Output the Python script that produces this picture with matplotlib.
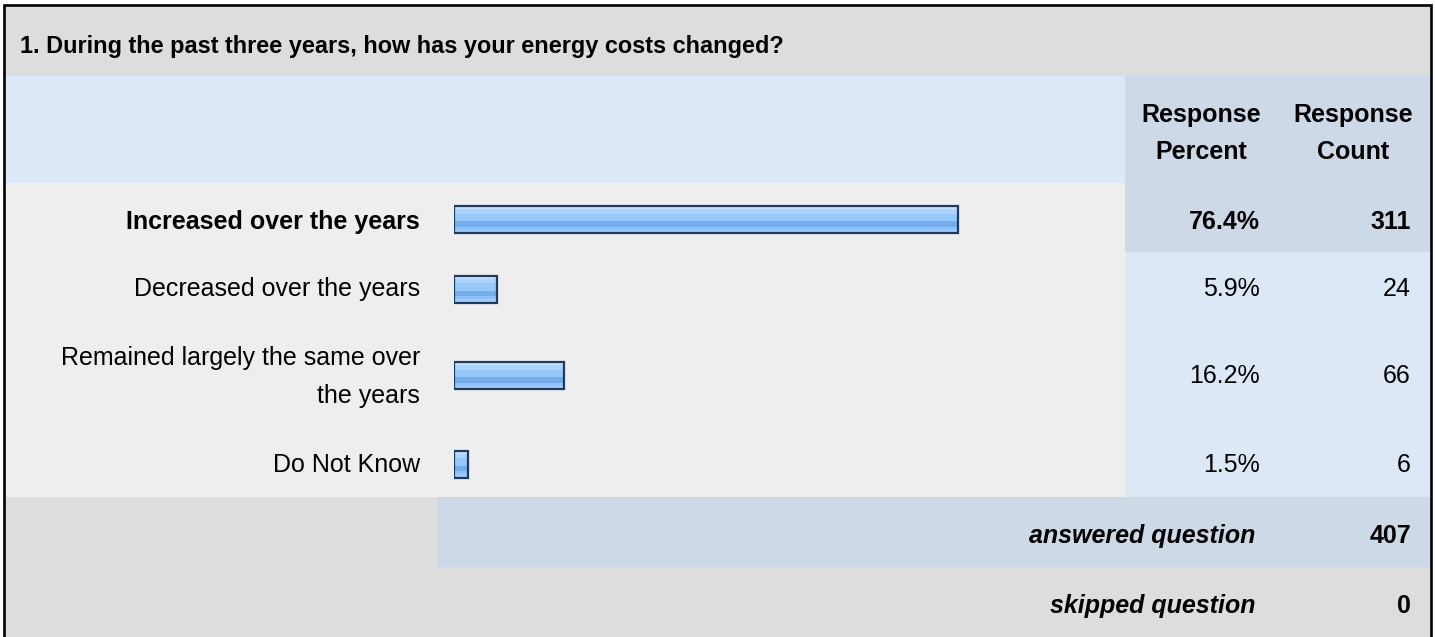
import matplotlib
matplotlib.use("Agg")
import matplotlib.pyplot as plt
from matplotlib.patches import Rectangle

# ---------------- data ----------------
question = "1. During the past three years, how has your energy costs changed?"
categories = ["Increased over the years", "Decreased over the years",
              "Remained largely the same over\nthe years", "Do Not Know"]
percents = [76.4, 5.9, 16.2, 1.5]
counts = [311, 24, 66, 6]
bold_category = "Increased over the years"
col_headers = ["Response\nPercent", "Response\nCount"]
answered = 407
skipped = 0

# ---------------- style / layout ----------------
W, H = 1435, 637
FONT = "Liberation Sans"
FS = 18
TITLE_FS = 16.9
C_HEAD = "#DDDDDD"
C_LBLUE = "#DCE8F6"
C_DBLUE = "#CDD9E6"
C_ROW = "#EEEEEE"
C_EDGE = "#1D3A60"
BANDS = [(0.00, 0.12, "#C6E1FF"), (0.12, 0.28, "#AAD3FF"), (0.28, 0.56, "#96C8F9"),
         (0.56, 0.76, "#74ACEE"), (0.76, 0.88, "#8FC3F7"), (0.88, 1.00, "#A0CDF9")]

row_tops = [183, 252, 322, 428]
row_bots = [252, 322, 428, 497]
row_base = [229, 296, 365, 472]
bar_centers = [219.5, 289, 375.5, 464]
BAR_H = 27
PX_PER_PCT = 6.545
PAD = 0.6

fig = plt.figure(figsize=(W / 100, H / 100), dpi=100)
ax = fig.add_axes([0, 0, 1, 1])
ax.set_xlim(0, W)
ax.set_ylim(H, 0)
ax.axis("off")


def rect(x0, y0, x1, y1, c):
    ax.add_patch(Rectangle((x0, y0), x1 - x0, y1 - y0, facecolor=c, edgecolor="none", zorder=0))


L, R = 4, 1431
COL = 1125
# header
rect(L, 5, R, 76, C_HEAD)
rect(L, 76, COL, 183, C_LBLUE)
rect(COL, 76, R, 183, C_DBLUE)
# data rows
for i, (t, b) in enumerate(zip(row_tops, row_bots)):
    rect(L, t, COL, b, C_ROW)
    rect(COL, t, R, b, C_DBLUE if i == 0 else C_LBLUE)
# summary rows
rect(L, 497, 437, 567, C_HEAD)
rect(437, 497, R, 567, C_DBLUE)
rect(L, 567, R, H, C_HEAD)
# outer border
ax.plot([3.8, 3.8, 1430.8, 1430.8], [H + 5, 5.2, 5.2, H + 5], color="black", lw=1.9, zorder=5,
        solid_joinstyle="miter", clip_on=False)

# texts
ax.text(20, 53, question, fontsize=TITLE_FS, fontweight="bold", family=FONT, ha="left", va="baseline")
for cx, htxt in zip([1201, 1353], col_headers):
    l1, l2 = htxt.split("\n")
    ax.text(cx, 122, l1, fontsize=FS, fontweight="bold", family=FONT, ha="center", va="baseline")
    ax.text(cx, 159, l2, fontsize=FS, fontweight="bold", family=FONT, ha="center", va="baseline")

for i, cat in enumerate(categories):
    w = "bold" if cat == bold_category else "normal"
    lines = cat.split("\n")
    for j, ln in enumerate(lines):
        ax.text(420, row_base[i] + 38 * j, ln, fontsize=FS, fontweight=w, family=FONT,
                ha="right", va="baseline")
    yb = row_base[i] + 38 * (len(lines) - 1) / 2 if len(lines) > 1 else row_base[i]
    if len(lines) > 1:
        yb = 383
    ax.text(1260, yb, f"{percents[i]:.1f}%", fontsize=FS, fontweight=w, family=FONT,
            ha="right", va="baseline")
    ax.text(1411, yb, str(counts[i]), fontsize=FS, fontweight=w, family=FONT,
            ha="right", va="baseline")

ax.text(1255, 543, "answered question", fontsize=FS, fontweight="bold", style="italic",
        family=FONT, ha="right", va="baseline")
ax.text(1411, 543, str(answered), fontsize=FS, fontweight="bold", family=FONT, ha="right", va="baseline")
ax.text(1255, 613, "skipped question", fontsize=FS, fontweight="bold", style="italic",
        family=FONT, ha="right", va="baseline")
ax.text(1411, 613, str(skipped), fontsize=FS, fontweight="bold", family=FONT, ha="right", va="baseline")

# bars axes (percent scale)
bx_left = 454
bx_w = PX_PER_PCT * (100 + PAD)
top, bot = 183, 497
bx = fig.add_axes([bx_left / W, (H - bot) / H, bx_w / W, (bot - top) / H])
bx.set_xlim(-PAD, 100)
bx.set_ylim(bot, top)
bx.axis("off")
bx.patch.set_alpha(0)
for yc, v in zip(bar_centers, percents):
    for fs_, fe_, c in BANDS:
        hh = BAR_H * (fe_ - fs_)
        yy = yc - BAR_H / 2 + BAR_H * (fs_ + fe_) / 2
        bx.barh(yy, v + PAD, left=-PAD, height=hh, color=c, edgecolor="none", zorder=2)
    bx.barh(yc, v + PAD, left=-PAD, height=BAR_H, fill=False, edgecolor=C_EDGE,
            linewidth=1.6, zorder=3)

fig.savefig("out.png", dpi=100)
